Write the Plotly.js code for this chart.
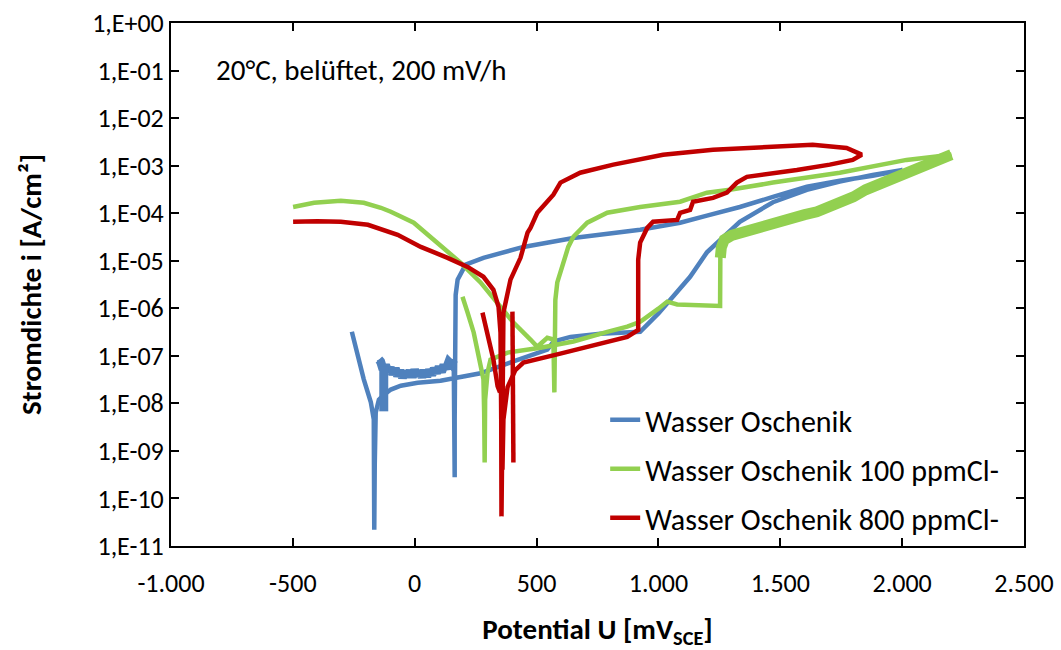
<!DOCTYPE html>
<html>
<head>
<meta charset="utf-8">
<script src="https://cdn.plot.ly/plotly-3.0.1.min.js"></script>
<style>
html,body{margin:0;padding:0;background:#fff;}
#chart{width:1061px;height:650px;}
</style>
</head>
<body>
<div id="chart"></div>
<script>
// ---------- tick labels ----------
const xTickVals = [-1000, -500, 0, 500, 1000, 1500, 2000, 2500];
const xTickText = ["-1.000", "-500", "0", "500", "1.000", "1.500", "2.000", "2.500"];
const yTickVals = [1e-11, 1e-10, 1e-9, 1e-8, 1e-7, 1e-6, 1e-5, 1e-4, 1e-3, 1e-2, 1e-1, 1];
const yTickText = ["1,E-11", "1,E-10", "1,E-09", "1,E-08", "1,E-07", "1,E-06", "1,E-05", "1,E-04", "1,E-03", "1,E-02", "1,E-01", "1,E+00"];

const seriesNames = ["Wasser Oschenik", "Wasser Oschenik 100 ppmCl-", "Wasser Oschenik 800 ppmCl-"];

// ---------- Wasser Oschenik (blue) : potential mV, current density A/cm² ----------
const blueX = [-258, -241, -209, -180, -168, -167, -166, -164, -160, -147, -127, -98, -57, 12, 106, 201, 270, 405, 544, 570, 639, 761, 925, 1000, 1060, 1130, 1199, 1265, 1334, 1470, 1609, 1744, 1879, 2002,
               1879, 1744, 1609, 1470, 1334, 1199, 1089, 925, 651, 446, 282, 209, 176, 168, 165, 164, 164, 163, 161];
const blueY = [3.2e-7, 1.35e-7, 3.2e-8, 1.05e-8, 4.6e-9, 3e-10, 2.2e-11, 5e-10, 6.4e-9, 1.2e-8, 1.5e-8, 1.95e-8, 2.35e-8, 2.7e-8, 3.0e-8, 3.6e-8, 4.3e-8, 7.6e-8, 1.35e-7, 2.0e-7, 2.5e-7, 2.9e-7, 3.2e-7, 7.8e-7, 1.75e-6, 4.6e-6, 1.5e-5, 3.2e-5, 6.6e-5, 1.7e-4, 3.1e-4, 4.6e-4, 6.4e-4, 8.1e-4,
               6.1e-4, 4.8e-4, 3.6e-4, 2.2e-4, 1.35e-4, 8.9e-5, 6.3e-5, 4.5e-5, 3.0e-5, 1.95e-5, 1.15e-5, 8.3e-6, 4.0e-6, 1.9e-6, 1.35e-7, 4.6e-9, 2.8e-10, 4e-9, 8.3e-8];
// noisy cathodic part of the return scan, plus small spur
const blueNoiseX = [160, 150, 140, 130, 120, 110, 100, 90, 80, 70, 60, 50, 40, 30, 20, 10, 0, -10, -20, -30, -40, -50, -60, -70, -80, -90, -100, -110, -120, -130, -140, -147, null, -127, -126, -127];
const blueNoiseY = [8.3e-8, 6.6e-8, 7.4e-8, 5.4e-8, 6.4e-8, 4.6e-8, 5.8e-8, 4.4e-8, 5.4e-8, 4.0e-8, 5.0e-8, 3.7e-8, 4.9e-8, 3.6e-8, 4.7e-8, 3.9e-8, 5.0e-8, 3.6e-8, 4.8e-8, 3.7e-8, 4.6e-8, 3.5e-8, 4.9e-8, 3.8e-8, 5.4e-8, 4.1e-8, 5.6e-8, 4.6e-8, 6.4e-8, 5.2e-8, 7.6e-8, 8.3e-8, null, 6e-8, 1.2e-8, 6.8e-9];

// ---------- Wasser Oschenik 100 ppmCl- (green) ----------
const greenFwdX = [-499, -413, -303, -209, -139, -98, -4, 94, 188, 270, 352, 405, 475, 503, 544, 569, 573, 577, 585, 610, 630, 651, 708, 790, 925, 1089, 1199, 1293, 1470, 1744, 2018, 2202];
const greenFwdY = [1.35e-4, 1.65e-4, 1.82e-4, 1.65e-4, 1.3e-4, 1.07e-4, 6.3e-5, 2.4e-5, 9.1e-6, 3.5e-6, 1.07e-6, 5.0e-7, 2.2e-7, 1.55e-7, 2.4e-7, 2.2e-7, 1.7e-8, 1.5e-6, 3.5e-6, 9.5e-6, 1.95e-5, 3.2e-5, 6.3e-5, 1.02e-4, 1.35e-4, 1.74e-4, 2.7e-4, 3.1e-4, 4.4e-4, 7.1e-4, 1.32e-3, 1.7e-3];
const greenNoiseX = [2202, 2150, 2100, 2050, 2000, 1950, 1900, 1850, 1800, 1750, 1700, 1650, 1600, 1550, 1500, 1450, 1400, 1350, 1300, 1270, 1258, 1254];
const greenNoiseY = [1.7e-3, 1.32e-3, 1.0e-3, 7.8e-4, 6.4e-4, 5.2e-4, 4.2e-4, 3.1e-4, 2.2e-4, 1.65e-4, 1.3e-4, 1.07e-4, 9.3e-5, 8.0e-5, 6.9e-5, 6.0e-5, 4.9e-5, 4.3e-5, 3.4e-5, 2.75e-5, 1.9e-5, 1.15e-5];
const greenRetX = [1253, 1200, 1077, 1036, 1000, 925, 872, 790, 651, 516, 381, 311, 299, 289, 288, 287, 285, 282, 266, 242, 217, 196];
const greenRetY = [1.12e-6, 1.13e-6, 1.2e-6, 1.38e-6, 9.8e-7, 5.2e-7, 4.1e-7, 3.2e-7, 2.0e-7, 1.48e-7, 1.17e-7, 8.3e-8, 4.5e-8, 1.2e-8, 2.8e-9, 5.7e-10, 6.4e-9, 3.2e-8, 8.3e-8, 3.1e-7, 8.1e-7, 1.75e-6];

// ---------- Wasser Oschenik 800 ppmCl- (red) ----------
const redX = [-499, -400, -303, -192, -70, 25, 135, 217, 282, 323, 344, 352, 355, 356, 360, 364, 393, 434, 463, 475, 503, 569, 598, 679, 815, 1019, 1224, 1429, 1633, 1772, 1834,
              1797, 1703, 1568, 1363, 1322, 1281, 1224, 1142, 1130, 1089, 1077, 978, 954, 937, 925, 917, 917, 872, 720, 585, 446, 413, 381, 364, 360];
const redY = [6.6e-5, 6.8e-5, 6.6e-5, 5.7e-5, 3.5e-5, 1.95e-5, 1.15e-5, 7.4e-6, 4.6e-6, 2.45e-6, 1.07e-6, 3.1e-7, 4.6e-9, 4.2e-11, 4.6e-9, 8.1e-7, 4.0e-6, 1.15e-5, 3.9e-5, 4.9e-5, 1.02e-4, 2.45e-4, 4.4e-4, 7.1e-4, 1.05e-3, 1.7e-3, 2.15e-3, 2.45e-3, 2.75e-3, 2.35e-3, 1.7e-3,
              1.32e-3, 1.05e-3, 8.1e-4, 5.8e-4, 4.4e-4, 2.7e-4, 2.1e-4, 1.74e-4, 1.17e-4, 1.02e-4, 7.2e-5, 6.6e-5, 4.9e-5, 3.2e-5, 2.4e-5, 1.05e-5, 3.5e-7, 2.5e-7, 1.55e-7, 1.07e-7, 7.2e-8, 5.0e-8, 2.2e-8, 4.6e-9, 4e-10];
const redBranchAX = [278, 299, 323, 340, 350];
const redBranchAY = [8.1e-7, 3.1e-7, 8.3e-8, 2.3e-8, 1.7e-8];
const redBranchBX = [401, 403, 405];
const redBranchBY = [8.5e-7, 4.6e-9, 5.7e-10];

const colors = ["#4F81BD", "#92D050", "#C00000"];
const FONT = "Carlito, Calibri, Lato, 'Open Sans', sans-serif";
const LW = 4.5;

const traces = [
  {x: blueX.concat(blueNoiseX.slice(0, 32)), y: blueY.concat(blueNoiseY.slice(0, 32)), name: seriesNames[0], legendgroup: "a",
   mode: "lines", line: {color: colors[0], width: LW}},
  {x: blueNoiseX, y: blueNoiseY, mode: "lines", showlegend: false, legendgroup: "a",
   line: {color: colors[0], width: 9}, hoverinfo: "skip"},
  {x: greenFwdX.concat(greenNoiseX, greenRetX), y: greenFwdY.concat(greenNoiseY, greenRetY), name: seriesNames[1], legendgroup: "b",
   mode: "lines", line: {color: colors[1], width: LW}},
  {x: greenNoiseX, y: greenNoiseY, mode: "lines", showlegend: false, legendgroup: "b",
   line: {color: colors[1], width: 11}, hoverinfo: "skip"},
  {x: redX.concat([null], redBranchAX, [null], redBranchBX), y: redY.concat([null], redBranchAY, [null], redBranchBY), name: seriesNames[2], legendgroup: "c",
   mode: "lines", line: {color: colors[2], width: LW}, connectgaps: false}
];

const layout = {
  width: 1061, height: 650,
  margin: {l: 171, r: 37, t: 23, b: 104},
  paper_bgcolor: "#fff", plot_bgcolor: "#fff",
  font: {family: FONT, size: 26, color: "#000"},
  showlegend: true,
  legend: {x: 0.509, y: 0.291, xanchor: "left", yanchor: "top", bgcolor: "rgba(0,0,0,0)",
           font: {family: FONT, size: 30, color: "#000"}, tracegroupgap: 7, traceorder: "grouped"},
  xaxis: {
    range: [-1000, 2500], tickvals: xTickVals, ticktext: xTickText,
    ticks: "inside", ticklen: 8, tickwidth: 2, tickcolor: "#000",
    showline: true, linecolor: "#000", linewidth: 2, mirror: "ticks",
    showgrid: false, zeroline: false, ticklabelstandoff: 13,
    tickfont: {family: FONT, size: 26},
    title: {text: "<b>Potential U [mV<sub>SCE</sub>]</b>", font: {family: FONT, size: 29}, standoff: 20}
  },
  yaxis: {
    type: "log", range: [-11, 0], tickvals: yTickVals, ticktext: yTickText,
    ticks: "inside", ticklen: 8, tickwidth: 2, tickcolor: "#000",
    showline: true, linecolor: "#000", linewidth: 2, mirror: "ticks",
    showgrid: false, zeroline: false,
    tickfont: {family: FONT, size: 26},
    title: {text: "<b>Stromdichte i [A/cm²]</b>", font: {family: FONT, size: 29}, standoff: 42}
  },
  annotations: [{
    text: "20°C, belüftet, 200 mV/h", xref: "paper", yref: "paper", x: 0.05, y: 0.91,
    xanchor: "left", yanchor: "middle", showarrow: false, font: {family: FONT, size: 29, color: "#000"}
  }]
};

Plotly.newPlot("chart", traces, layout, {displayModeBar: false, staticPlot: true});
</script>
</body>
</html>
